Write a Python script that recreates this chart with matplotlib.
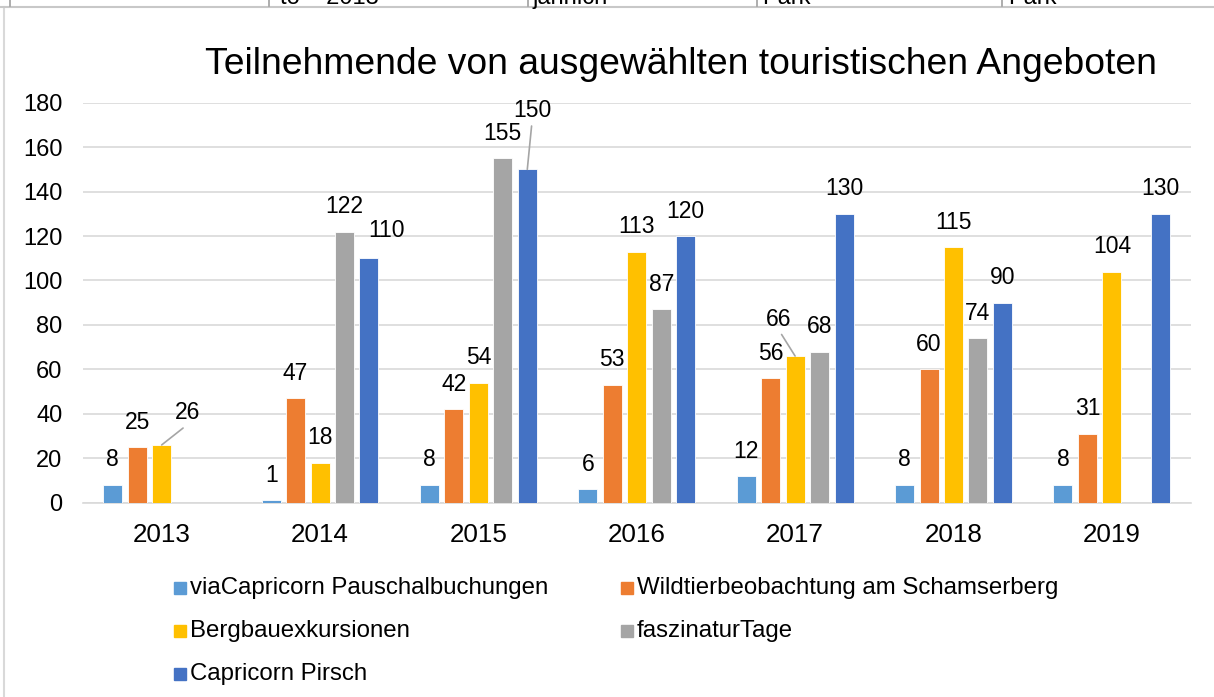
import matplotlib
matplotlib.use("Agg")
import matplotlib.pyplot as plt
import numpy as np
from matplotlib.patches import Rectangle
from matplotlib.lines import Line2D

# ---------------- data ----------------
years = ["2013", "2014", "2015", "2016", "2017", "2018", "2019"]
series_names = [
    "viaCapricorn Pauschalbuchungen",
    "Wildtierbeobachtung am Schamserberg",
    "Bergbauexkursionen",
    "faszinaturTage",
    "Capricorn Pirsch",
]
via_capricorn = [8, 1, 8, 6, 12, 8, 8]
wildtier = [25, 47, 42, 53, 56, 60, 31]
bergbau = [26, 18, 54, 113, 66, 115, 104]
faszinatur = [np.nan, 122, 155, 87, 68, 74, np.nan]
pirsch = [np.nan, 110, 150, 120, 130, 90, 130]
title = "Teilnehmende von ausgewählten touristischen Angeboten"

# ---------------- style ----------------
colors = ["#5B9BD5", "#ED7D31", "#FFC000", "#A5A5A5", "#4472C4"]
FONT = "Liberation Sans"
plt.rcParams["font.family"] = [FONT, "DejaVu Sans"]
W, H = 1214, 697
fig = plt.figure(figsize=(W / 100, H / 100), dpi=100)

def fx(px):
    return px / W

def fy(py):
    return 1 - py / H

ax = fig.add_axes([fx(82.5), fy(502.7), fx(1191) - fx(82.5), fy(102.7) - fy(502.7)])

all_series = [via_capricorn, wildtier, bergbau, faszinatur, pirsch]
x = np.arange(len(years))
step = 0.1544
width = 0.12
px2pt = 0.72
# label offsets (dx px, up px, leader)
special = {(2, 0): (26, 32, True), (4, 1): (18, 27.6, False),
           (4, 2): (4.7, 59, True), (2, 4): (-16, 37, True)}

for i, (vals, c) in enumerate(zip(all_series, colors)):
    v = np.array(vals, dtype=float)
    pos = x + (i - 2) * step
    mask = ~np.isnan(v)
    ax.bar(pos[mask], v[mask], width=width, color=c, edgecolor="white",
           linewidth=0.6, zorder=3)
    for j in np.where(mask)[0]:
        dx, up, leader = special.get((i, j), (0, 25, False))
        kw = {}
        if leader:
            kw["arrowprops"] = dict(arrowstyle="-", color="#A5A5A5", lw=1.2,
                                    shrinkA=1, shrinkB=0, relpos=(0.5, 0.0))
        ax.annotate(f"{int(v[j])}", xy=(pos[j], v[j]), xytext=(dx * px2pt, up * px2pt),
                    textcoords="offset points", ha="center", va="center",
                    fontsize=16.5, color="black", zorder=5, **kw)

ax.set_xlim(-0.5, len(years) - 0.5)
ax.set_ylim(0, 180)
ax.set_yticks(np.arange(0, 181, 20))
ax.set_xticks(x)
ax.set_xticklabels(years)
ax.tick_params(axis="both", length=0, colors="black")
ax.tick_params(axis="y", pad=14.5, labelsize=17)
ax.tick_params(axis="x", pad=14.6, labelsize=18.7)
ax.grid(axis="y", color="#D9D9D9", lw=1.2, zorder=0)
ax.set_axisbelow(True)
for s in ["top", "right", "left"]:
    ax.spines[s].set_visible(False)
ax.spines["bottom"].set_color("#D9D9D9")
ax.spines["bottom"].set_linewidth(1.2)

fig.text(fx(205), fy(74.3), title, fontsize=26.8, ha="left", va="baseline")

# ---------------- legend (row-wise, 2 columns) ----------------
col_x = [174, 621]
row_y = [588, 631, 674]
for k, (name, c) in enumerate(zip(series_names, colors)):
    r, cidx = divmod(k, 2)
    mx, my = col_x[cidx], row_y[r]
    fig.add_artist(Rectangle((fx(mx), fy(my + 6)), fx(12), 12 / H, color=c,
                             transform=fig.transFigure))
    fig.text(fx(mx + 16), fy(my), name, fontsize=17.3, ha="left", va="center")

# ---------------- frame / table fragment ----------------
fig.add_artist(Line2D([fx(4), fx(4)], [fy(7), 0], transform=fig.transFigure,
                      color="#D9D9D9", lw=1.5))
fig.add_artist(Line2D([0, 1], [fy(7), fy(7)], transform=fig.transFigure,
                      color="#C8C8C8", lw=1.5))
for vx in [10, 269, 528, 757, 1002]:
    fig.add_artist(Line2D([fx(vx), fx(vx)], [1, fy(6)], transform=fig.transFigure,
                          color="#A0A0A0", lw=1.2))
for tx, tt in [(280, "to – 2013"), (532, "jährlich"), (762, "Park"), (1008, "Park")]:
    fig.text(fx(tx), fy(4), tt, fontsize=17, ha="left", va="baseline")

fig.savefig("out.png", dpi=100)
